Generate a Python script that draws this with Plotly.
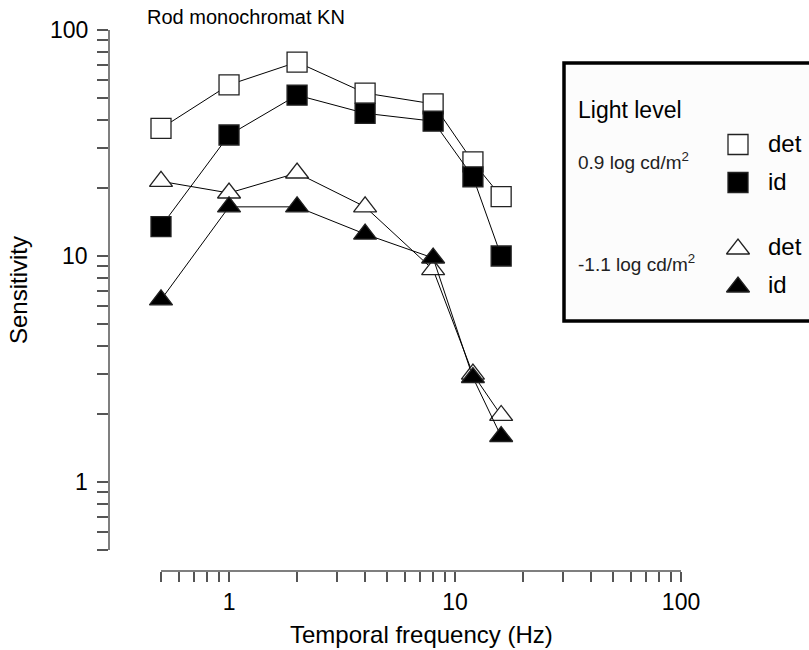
import math
import plotly.graph_objects as go

# ---------------- data ----------------
freq = [0.5, 1, 2, 4, 8, 12, 16]
det_hi = [36.7, 57.2, 72.1, 52.6, 47.1, 26.1, 18.3]   # 0.9 log cd/m2, detection
id_hi = [13.5, 34.3, 51.5, 42.8, 39.5, 22.4, 10.0]    # 0.9 log cd/m2, identification
det_lo = [21.4, 19.0, 23.3, 16.5, 8.7, 3.0, 1.97]     # -1.1 log cd/m2, detection
id_lo = [6.4, 16.5, 16.5, 12.5, 9.8, 2.9, 1.59]       # -1.1 log cd/m2, identification

x_tick_vals = [0.5, 0.6, 0.7, 0.8, 0.9, 1, 2, 3, 4, 5, 6, 7, 8, 9,
               10, 20, 30, 40, 50, 60, 70, 80, 90, 100]
y_tick_vals = x_tick_vals
major_labels = {1: "1", 10: "10", 100: "100"}

title_text = "Rod monochromat KN"
x_title = "Temporal frequency (Hz)"
y_title = "Sensitivity"
legend_title = "Light level"
level_labels = ["0.9 log cd/m<sup>2</sup>", "-1.1 log cd/m<sup>2</sup>"]
task_labels = ["det", "id"]

# ---------------- layout geometry ----------------
W, H = 809, 650
L, R, T, B = 109, 0, 25, 79
PW, PH = W - L - R, H - T - B
DEC = 226.0  # pixels per decade
x_px_05 = 161
x_lo = math.log10(0.5) - (x_px_05 - L) / DEC
x_hi = x_lo + PW / DEC
y_px_100 = 30
y_hi = 2 + (y_px_100 - T) / DEC
y_lo = y_hi - PH / DEC

FONT = "Liberation Sans, Arial, Helvetica, sans-serif"
AX = "#555555"
EDGE = "#222222"

fig = go.Figure()

def add_series(y, symbol, fill):
    fig.add_trace(go.Scatter(
        x=freq, y=y, mode="lines+markers",
        line=dict(color="black", width=1),
        marker=dict(symbol=symbol, size=20, color=fill,
                    line=dict(color=EDGE, width=1.3)),
        showlegend=False, hoverinfo="x+y", cliponaxis=False,
    ))

add_series(det_hi, "square", "white")
add_series(det_lo, "triangle-up", "white")
add_series(id_hi, "square", "black")
add_series(id_lo, "triangle-up", "black")

# ---- custom legend (pixel-unit overlay axes) ----
leg_mx = 738
leg_marker_y = [144.5, 182.5, 249, 287]
leg_text_y = [143.5, 181.5, 246.5, 284.5]
leg_sym = ["square", "square", "triangle-up", "triangle-up"]
leg_fill = ["white", "black", "white", "black"]
for yy, s, f in zip(leg_marker_y, leg_sym, leg_fill):
    fig.add_trace(go.Scatter(
        x=[leg_mx], y=[yy], xaxis="x2", yaxis="y2", mode="markers",
        marker=dict(symbol=s, size=20, color=f, line=dict(color=EDGE, width=1.3)),
        showlegend=False, hoverinfo="skip",
    ))

annotations = [
    dict(text=title_text, xref="paper", yref="paper", x=0, y=1, xshift=36, yshift=25 - 17,
         xanchor="left", yanchor="middle", showarrow=False,
         font=dict(size=20, color="black", family=FONT)),
    dict(text=y_title, xref="paper", yref="paper", x=0, y=(T + PH - 290) / PH, xshift=18 - L,
         textangle=-90, xanchor="center", yanchor="middle", showarrow=False,
         font=dict(size=24, color="black", family=FONT)),
    dict(text=x_title, xref="paper", yref="paper", x=(421 - L) / PW, y=0, yshift=-(634 - (T + PH)),
         xanchor="center", yanchor="middle", showarrow=False,
         font=dict(size=24, color="black", family=FONT)),
    dict(text=legend_title, xref="x2", yref="y2", x=576, y=110,
         xanchor="left", yanchor="middle", showarrow=False,
         font=dict(size=23, color="black", family=FONT)),
    dict(text=level_labels[0], xref="x2", yref="y2", x=576, y=161,
         xanchor="left", yanchor="middle", showarrow=False,
         font=dict(size=19, color="#222222", family=FONT)),
    dict(text=level_labels[1], xref="x2", yref="y2", x=576, y=263,
         xanchor="left", yanchor="middle", showarrow=False,
         font=dict(size=19, color="#222222", family=FONT)),
]
for yy, t in zip(leg_text_y, task_labels * 2):
    annotations.append(dict(text=t, xref="x2", yref="y2", x=766, y=yy,
                            xanchor="left", yanchor="middle", showarrow=False,
                            font=dict(size=24, color="black", family=FONT)))

# y tick labels (placed next to the ticks; log axis -> log10 positions)
for v, lab in major_labels.items():
    annotations.append(dict(text=lab, xref="paper", yref="y", x=0, y=math.log10(v),
                            xshift=-19, xanchor="right", yanchor="middle", showarrow=False,
                            font=dict(size=23, color="black", family=FONT)))

shapes = [
    dict(type="rect", xref="x2", yref="y2", x0=564, x1=840, y0=63, y1=321,
         line=dict(color="black", width=3.5), fillcolor="#fcfcfc", layer="below"),
    dict(type="line", xref="x", yref="paper", x0=0.5, x1=100, y0=0, y1=0,
         line=dict(color=AX, width=1.5)),
    dict(type="line", xref="paper", yref="y", x0=0, x1=0, y0=0.5, y1=100,
         line=dict(color=AX, width=1.5)),
]

fig.update_layout(
    width=W, height=H,
    margin=dict(l=L, r=R, t=T, b=B, pad=0),
    paper_bgcolor="white", plot_bgcolor="white",
    font=dict(family=FONT, color="black"),
    showlegend=False,
    xaxis=dict(type="log", range=[x_lo, x_hi], tickmode="array",
               tickvals=x_tick_vals,
               ticktext=[major_labels.get(v, "") for v in x_tick_vals],
               ticks="outside", ticklen=10, tickwidth=1.5, tickcolor=AX,
               showline=False, showgrid=False, zeroline=False, automargin=False,
               tickfont=dict(size=23, color="black", family=FONT), fixedrange=True),
    yaxis=dict(type="log", range=[y_lo, y_hi], tickmode="array",
               tickvals=y_tick_vals, showticklabels=False,
               ticks="outside", ticklen=11, tickwidth=1.5, tickcolor=AX,
               showline=False, showgrid=False, zeroline=False, automargin=False,
               fixedrange=True),
    xaxis2=dict(overlaying="x", anchor="y2", range=[L, W - R], visible=False, fixedrange=True),
    yaxis2=dict(overlaying="y", anchor="x2", range=[T + PH, T], visible=False, fixedrange=True),
    annotations=annotations,
    shapes=shapes,
)

fig.write_html("out.html", config={"displayModeBar": False},
               post_script="document.body.style.margin='0';document.body.style.padding='0';")
